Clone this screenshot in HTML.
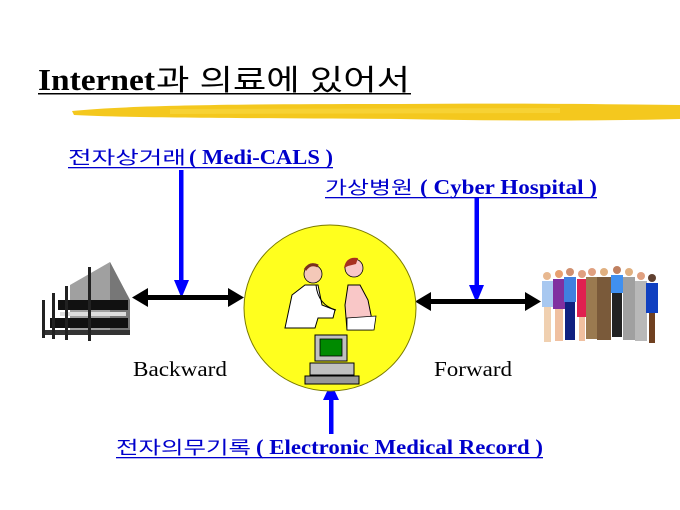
<!DOCTYPE html>
<html><head><meta charset="utf-8"><style>
html,body{margin:0;padding:0;background:#fff;}
svg{display:block;}
</style></head><body>
<svg width="680" height="510" viewBox="0 0 680 510" xmlns="http://www.w3.org/2000/svg">
<!-- title -->
<text x="38" y="90" font-family="Liberation Serif, serif" font-weight="bold" font-size="31" fill="#000" textLength="117" lengthAdjust="spacingAndGlyphs">Internet</text>
<text x="156" y="90" font-family="'Liberation Sans','Noto Sans CJK KR',sans-serif" font-size="29" fill="#000" textLength="254" lengthAdjust="spacingAndGlyphs">과 의료에 있어서</text>
<rect x="38" y="93" width="373" height="1.5" fill="#000"/>
<!-- brush stroke -->
<path d="M72,111 C130,105 250,104 400,104 C500,103 600,104 680,105 L680,119 C600,121 500,121 400,119 C250,118 130,118 74,115 Z" fill="#f4c81e"/>
<path d="M170,109 L560,108 L560,113 L170,114 Z" fill="#f8d43a" opacity="0.8"/>
<!-- labels -->
<g fill="#0000cc" font-size="21">
<text x="68" y="164" font-family="'Liberation Sans','Noto Sans CJK KR',sans-serif" font-size="18" textLength="118" lengthAdjust="spacingAndGlyphs">전자상거래</text>
<text x="189" y="164" font-family="'Liberation Serif',serif" font-weight="bold" textLength="144" lengthAdjust="spacingAndGlyphs">( Medi-CALS )</text>
<rect x="68" y="167" width="265" height="1.3"/>
<text x="325" y="194" font-family="'Liberation Sans','Noto Sans CJK KR',sans-serif" font-size="18" textLength="88" lengthAdjust="spacingAndGlyphs">가상병원</text>
<text x="420" y="194" font-family="'Liberation Serif',serif" font-weight="bold" textLength="177" lengthAdjust="spacingAndGlyphs">( Cyber Hospital )</text>
<rect x="325" y="197" width="272" height="1.3"/>
<text x="116" y="454" font-family="'Liberation Sans','Noto Sans CJK KR',sans-serif" font-size="18" textLength="135" lengthAdjust="spacingAndGlyphs">전자의무기록</text>
<text x="256" y="454" font-family="'Liberation Serif',serif" font-weight="bold" textLength="287" lengthAdjust="spacingAndGlyphs">( Electronic Medical Record )</text>
<rect x="116" y="457" width="427" height="1.3"/>
</g>
<!-- blue arrows -->
<g fill="#0000ff">
<rect x="179" y="170" width="4.5" height="112"/>
<polygon points="174,280 189,280 181.5,298"/>
<rect x="474.5" y="198" width="4.5" height="88"/>
<polygon points="469,285 484,285 476.5,303"/>
<rect x="329" y="398" width="4.5" height="36"/>
<polygon points="323,400 339,400 331,383"/>
</g>
<!-- black double arrows -->
<g fill="#000">
<rect x="145" y="295" width="86" height="5"/>
<polygon points="132,297.5 148,288 148,307"/>
<polygon points="244,297.5 228,288 228,307"/>
<rect x="428" y="299" width="100" height="5"/>
<polygon points="415,301.5 431,292 431,311"/>
<polygon points="541,301.5 525,292 525,311"/>
</g>
<!-- circle -->
<ellipse cx="330" cy="308" rx="86" ry="83" fill="#ffff1e" stroke="#7a7a00" stroke-width="1"/>
<!-- doctor -->
<path d="M285,328 L292,295 L305,285 L318,285 L322,305 L335,310 L333,318 L318,318 L315,328 Z" fill="#fff" stroke="#000" stroke-width="1"/>
<circle cx="313" cy="274" r="9" fill="#f4c8b8" stroke="#000" stroke-width="0.8"/>
<path d="M305,270 Q310,262 318,266" fill="none" stroke="#7a3020" stroke-width="3"/>
<path d="M316,285 Q318,305 336,310" fill="none" stroke="#000" stroke-width="1"/>
<!-- patient -->
<path d="M348,285 L360,285 L368,300 L372,320 L372,330 L347,330 L345,305 Z" fill="#f9c7c7" stroke="#000" stroke-width="1"/>
<circle cx="354" cy="268" r="9" fill="#f9c7c7" stroke="#000" stroke-width="0.8"/>
<path d="M344,268 Q346,256 358,258 L356,264 L348,266 Z" fill="#a83020"/>
<path d="M347,318 L376,316 L374,330 L347,330 Z" fill="#fff" stroke="#000" stroke-width="0.8"/>
<!-- computer -->
<rect x="315" y="335" width="32" height="26" fill="#c0c0c0" stroke="#000" stroke-width="1"/>
<rect x="320" y="339" width="22" height="17" fill="#008a00" stroke="#000" stroke-width="0.8"/>
<rect x="310" y="363" width="44" height="12" fill="#c0c0c0" stroke="#000" stroke-width="1"/>
<rect x="305" y="376" width="54" height="8" fill="#999" stroke="#000" stroke-width="1"/>
<!-- building -->
<g>
<polygon points="70,285 110,262 130,300 130,335 70,335" fill="#a0a0a0"/>
<polygon points="110,262 130,300 130,330 110,330" fill="#777"/>
<rect x="58" y="300" width="70" height="10" fill="#111"/>
<rect x="50" y="318" width="78" height="10" fill="#111"/>
<rect x="60" y="312" width="66" height="4" fill="#ddd"/>
<rect x="45" y="330" width="85" height="5" fill="#333"/>
<rect x="42" y="300" width="3" height="38" fill="#222"/>
<rect x="52" y="293" width="3" height="46" fill="#222"/>
<rect x="65" y="286" width="3" height="54" fill="#222"/>
<rect x="88" y="267" width="3" height="74" fill="#222"/>
</g>
<!-- people -->
<g stroke="none">
<g transform="translate(540,272)"><circle cx="7" cy="4" r="4" fill="#e8b890"/><rect x="2" y="9" width="11" height="26" fill="#a8c8f0"/><rect x="4" y="35" width="7" height="35" fill="#f0d0b0"/></g>
<g transform="translate(552,270)"><circle cx="7" cy="4" r="4" fill="#e8a070"/><rect x="1" y="9" width="12" height="30" fill="#8030a0"/><rect x="3" y="39" width="8" height="32" fill="#f0c0a0"/></g>
<g transform="translate(563,268)"><circle cx="7" cy="4" r="4" fill="#d09070"/><rect x="1" y="9" width="12" height="25" fill="#4080e0"/><rect x="2" y="34" width="10" height="38" fill="#102080"/></g>
<g transform="translate(575,270)"><circle cx="7" cy="4" r="4" fill="#e0a080"/><rect x="2" y="9" width="10" height="38" fill="#e02050"/><rect x="4" y="47" width="6" height="24" fill="#f0c0a0"/></g>
<g transform="translate(585,268)"><circle cx="7" cy="4" r="4" fill="#e0a080"/><rect x="1" y="9" width="12" height="62" fill="#9a7a50"/></g>
<g transform="translate(596,268)"><circle cx="8" cy="4" r="4" fill="#e0b080"/><rect x="1" y="9" width="14" height="63" fill="#7a5a3a"/></g>
<g transform="translate(610,266)"><circle cx="7" cy="4" r="4" fill="#c08060"/><rect x="1" y="9" width="12" height="18" fill="#4090f0"/><rect x="2" y="27" width="10" height="44" fill="#222"/></g>
<g transform="translate(622,268)"><circle cx="7" cy="4" r="4" fill="#e0b080"/><rect x="1" y="9" width="12" height="63" fill="#a0a0a0"/></g>
<g transform="translate(634,272)"><circle cx="7" cy="4" r="4" fill="#e0a080"/><rect x="1" y="9" width="12" height="60" fill="#b8b8b8"/></g>
<g transform="translate(645,274)"><circle cx="7" cy="4" r="4" fill="#604030"/><rect x="1" y="9" width="12" height="30" fill="#1040c0"/><rect x="4" y="39" width="6" height="30" fill="#704020"/></g>
</g>
<!-- side labels -->
<text x="133" y="376" font-family="Liberation Serif, serif" font-size="21" fill="#000" textLength="94" lengthAdjust="spacingAndGlyphs">Backward</text>
<text x="434" y="376" font-family="Liberation Serif, serif" font-size="21" fill="#000" textLength="78" lengthAdjust="spacingAndGlyphs">Forward</text>
</svg>
</body></html>
